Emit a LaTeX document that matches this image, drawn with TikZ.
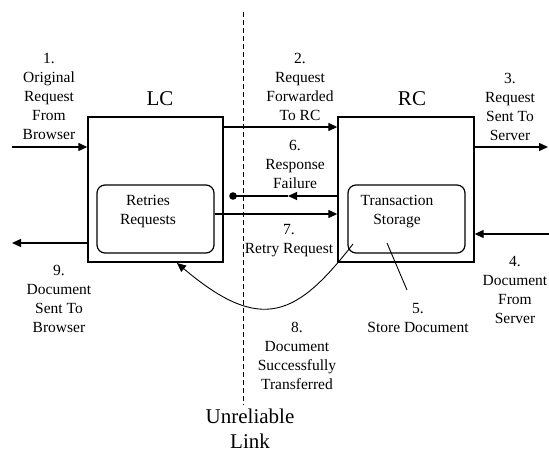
\documentclass[tikz,border=0pt]{standalone}
\usepackage{fontspec}
\setmainfont{Liberation Serif}
\usetikzlibrary{arrows.meta}
\tikzset{
  box/.style={draw, line width=1.4pt, inner sep=0pt, minimum width=#1},
  inbox/.style={draw, line width=1.2pt, rounded corners=8pt, inner sep=0pt},
  lbl/.style={align=center, inner sep=0pt, font=\fontsize{15.5}{19}\selectfont},
  big/.style={align=center, inner sep=0pt, font=\fontsize{21}{25}\selectfont},
  arr/.style={line width=1.3pt, -{Triangle[length=9pt,width=8pt]}},
  ln/.style={line width=1.3pt},
  thin/.style={line width=0.9pt},
}
\begin{document}
\begin{tikzpicture}[x=1pt,y=-1pt]
\useasboundingbox (0,0) rectangle (549,452);
% boxes
\node[box=135pt, minimum height=145pt] (LC) at (155.5,189.5) {};
\node[box=136pt, minimum height=145pt] (RC) at (406,189.5) {};
\node[inbox, minimum width=117pt, minimum height=68pt] (LCin) at (155.5,219) {};
\node[inbox, minimum width=117pt, minimum height=68pt] (RCin) at (406.5,219) {};
\node[lbl] (LCt) at (148,211.5) {Retries\\Requests};
\node[lbl] (RCt) at (397,211.5) {Transaction\\Storage};
\node[big] (LCl) at (160,99) {LC};
\node[big] (RCl) at (412,99) {RC};
% dashed link line
\coordinate (dtop) at (243,12);
\coordinate (dbot) at (243,405);
\draw[line width=0.9pt, dash pattern=on 5pt off 3pt] (dtop) -- (dbot);
\node[big] (link) at (250,429) {Unreliable\\Link};
% coordinates
\coordinate (y1) at (12,147);
\coordinate (y2) at (0,127);
\coordinate (y3a) at (548,147);
\coordinate (y3) at (0,147);
\coordinate (y4a) at (549,234);
\coordinate (y4) at (0,234);
\coordinate (y9a) at (12,243);
\coordinate (y9) at (0,243);
\coordinate (y6) at (0,196);
\coordinate (m6) at (288,196);
\coordinate (dot6) at (233,196);
\coordinate (y7) at (0,214);
% arrows
\draw[arr] (y1) -- (y1 -| LC.west);
\draw[arr] (LC.east |- y2) -- (RC.west |- y2);
\draw[arr] (RC.east |- y3) -- (y3a);
\draw[arr] (y4a) -- (RC.east |- y4);
\draw[arr] (LC.west |- y9) -- (y9a);
\draw[arr] (RC.west |- y6) -- (m6);
\draw[ln] (m6) -- (dot6);
\fill (dot6) circle (3.8pt);
\draw[arr] (LCin.east |- y7) -- (RC.west |- y7);
% curve 8
\coordinate (c8a) at (353,244);
\coordinate (c8b) at (177,263);
\draw[thin, -{Triangle[length=9pt,width=8pt]}] (c8a) .. controls (297,316) and (261.5,334.5) .. (c8b);
% pointer 5
\coordinate (p5a) at (387,243);
\coordinate (p5b) at (407,290);
\draw[thin] (p5a) -- (p5b);
% labels
\node[lbl] (l1) at (49,96.5) {1.\\Original\\Request\\From\\Browser};
\node[lbl] (l2) at (300,86.5) {2.\\Request\\Forwarded\\To RC};
\node[lbl] (l3) at (510,107) {3.\\Request\\Sent To\\Server};
\node[lbl] (l4) at (515,290) {4.\\Document\\From\\Server};
\node[lbl] (l5) at (418,317.5) {5.\\Store Document};
\node[lbl] (l6) at (295,164) {6.\\Response\\Failure};
\node[lbl] (l7) at (289,241) {7.\\Retry Request};
\node[lbl] (l8) at (297,356) {8.\\Document\\Successfully\\Transferred};
\node[lbl] (l9) at (59,299) {9.\\Document\\Sent To\\Browser};
\end{tikzpicture}
\end{document}
